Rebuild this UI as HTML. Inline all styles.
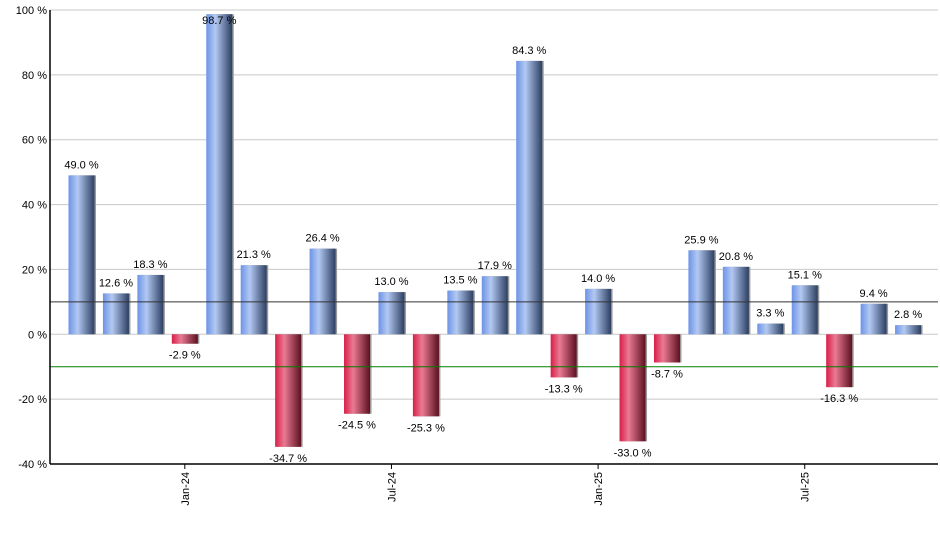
<!DOCTYPE html>
<html><head><meta charset="utf-8"><style>
body{margin:0;background:#fff;}
svg{display:block;font-family:"Liberation Sans",sans-serif;}
</style></head><body>
<svg id="chart" width="940" height="550">
<defs>
<linearGradient id="gb" x1="0" x2="1" y1="0" y2="0"><stop offset="0" stop-color="#6c93e6"/><stop offset="0.35" stop-color="#b3c9f2"/><stop offset="1" stop-color="#2c3f62"/></linearGradient>
<linearGradient id="gr" x1="0" x2="1" y1="0" y2="0"><stop offset="0" stop-color="#d81e48"/><stop offset="0.35" stop-color="#ea7a93"/><stop offset="1" stop-color="#5c1020"/></linearGradient>
</defs>
</svg>
<script>
const values=[49.0,12.6,18.3,-2.9,98.7,21.3,-34.7,26.4,-24.5,13.0,-25.3,13.5,17.9,84.3,-13.3,14.0,-33.0,-8.7,25.9,20.8,3.3,15.1,-16.3,9.4,2.8];
const yTicks=[-40,-20,0,20,40,60,80,100];
const xLabels=["Jan-24","Jul-24","Jan-25","Jul-25"];
const xLabelIdx=[3,9,15,21];
const refLines=[10,-10];
const svg=document.getElementById('chart');
const NS='http://www.w3.org/2000/svg';
const L=50,R=938,T=10,B=464,ymin=-40,ymax=100;
function y(v){return B-(v-ymin)/(ymax-ymin)*(B-T);}
function x(i){return 81.5+i*34.44;}
function mk(t,a,p){const e=document.createElementNS(NS,t);for(const k in a)e.setAttribute(k,a[k]);(p||svg).appendChild(e);return e;}
yTicks.forEach(v=>{
 const g=mk('line',{x1:L,x2:R,y1:y(v),y2:y(v),stroke:'#c8c8c8','stroke-width':1});
 
 
 const t=mk('text',{x:L-3,y:y(v)+4,'text-anchor':'end','font-size':11,fill:'#000'});
 t.textContent=v+' %';
 
 
});
values.forEach((v,i)=>{
 const w=26,cx=x(i),y0=y(0),y1=y(v);
 const top=Math.min(y0,y1),h=Math.abs(y1-y0);
 const sh=mk('rect',{x:cx-w/2+1.5,y:top,width:w,height:h,fill:'#999'});
 
 
 const r=mk('rect',{x:cx-w/2,y:top,width:w,height:h,fill:v>=0?'url(#gb)':'url(#gr)'});
 
 
 const t=mk('text',{x:cx,y:v>=0?Math.max(y1-7,24):y1+15,'text-anchor':'middle','font-size':11,fill:'#000'});
 t.textContent=v.toFixed(1)+' %';
 
 
});
refLines.forEach((v,i)=>{
 const l=mk('line',{x1:L,x2:R,y1:y(v),y2:y(v),stroke:i==0?'#333':'#008000','stroke-width':1});
 
 
});
const ax=mk('line',{x1:L,x2:L,y1:T,y2:B,stroke:'#000','stroke-width':1.5});


const bx=mk('line',{x1:L,x2:R,y1:B,y2:B,stroke:'#000','stroke-width':1.5});


xLabels.forEach((s,k)=>{
 const cx=x(xLabelIdx[k]);
 const tk=mk('line',{x1:cx,x2:cx,y1:B,y2:B+5,stroke:'#000'});
 
 
 const t=mk('text',{x:cx+4,y:B+8,'text-anchor':'end','font-size':11,fill:'#000',transform:`rotate(-90 ${cx+4} ${B+8})`});
 t.textContent=s;
 
 
});
</script>
</body></html>
